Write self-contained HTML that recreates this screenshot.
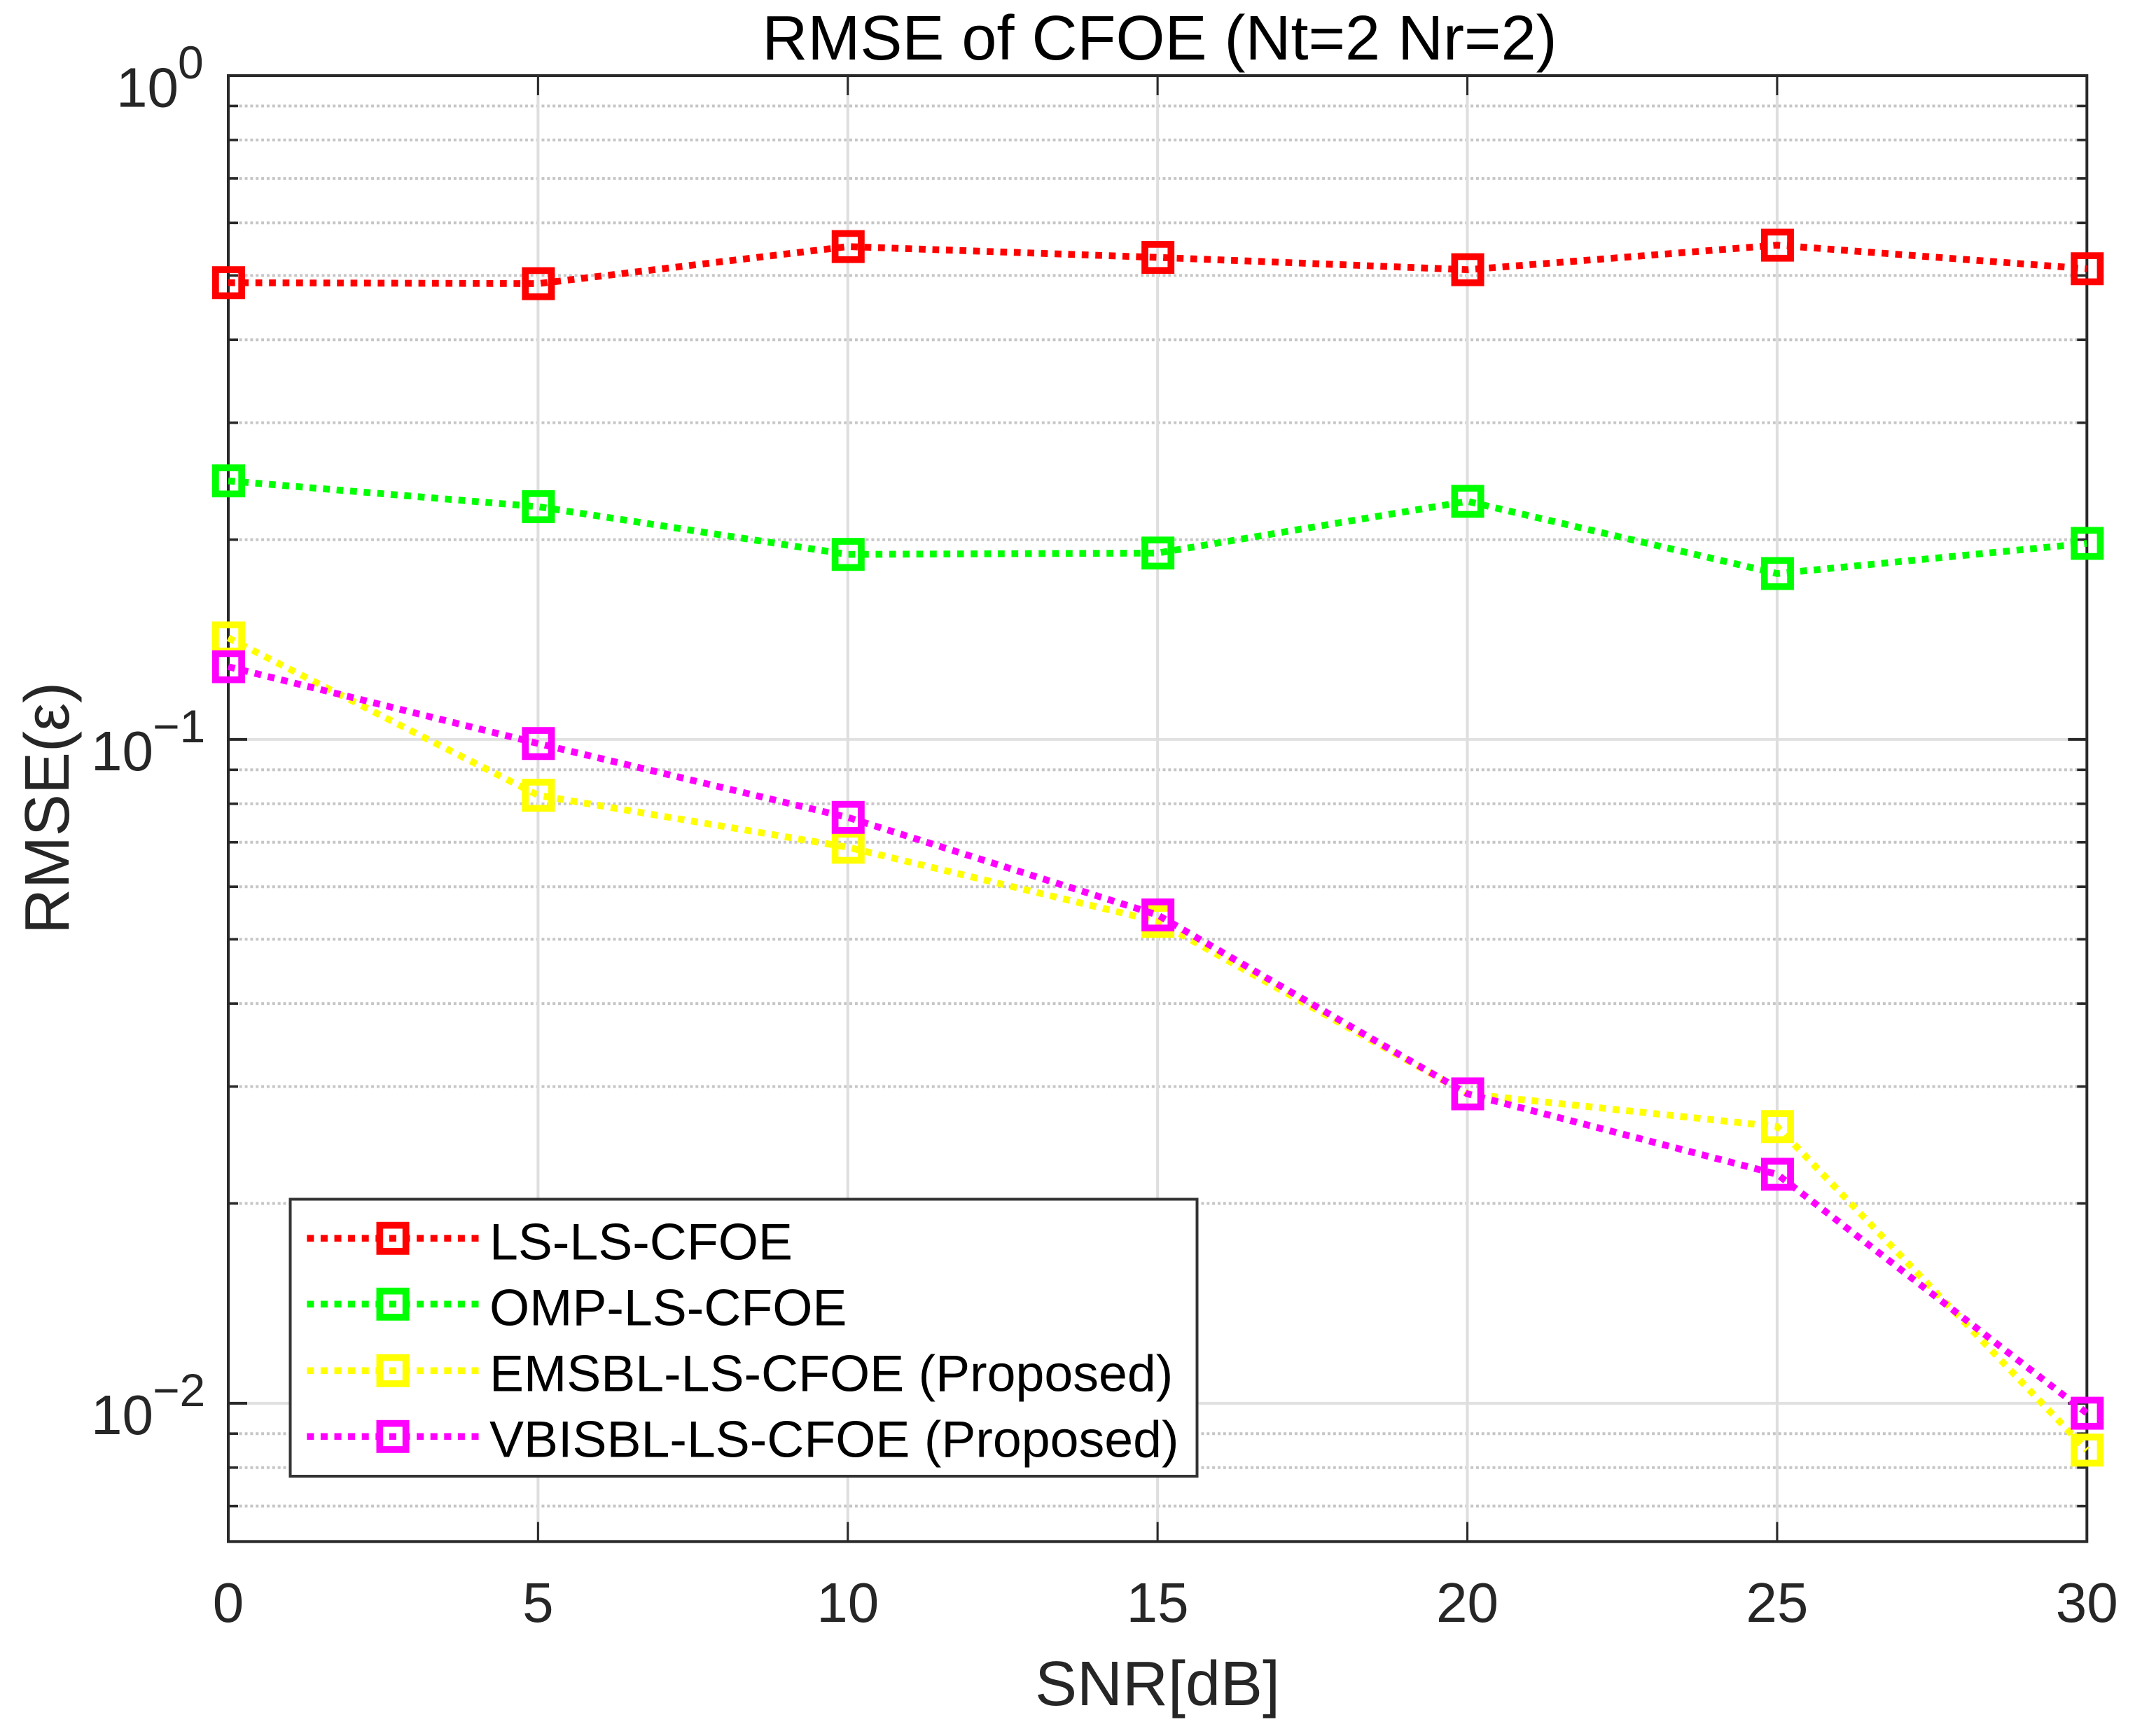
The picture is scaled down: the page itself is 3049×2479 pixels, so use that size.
<!DOCTYPE html>
<html lang="en">
<head>
<meta charset="utf-8">
<title>RMSE of CFOE (Nt=2 Nr=2)</title>
<style>
html,body{margin:0;padding:0;background:#fff;width:3049px;height:2479px;overflow:hidden}
svg{display:block;position:absolute;left:0;top:0}
text{font-family:"Liberation Sans",Arial,sans-serif}
</style>
</head>
<body>
<svg id="chart" xmlns="http://www.w3.org/2000/svg" width="3049" height="2479" viewBox="0 0 3049 2479">
  <rect x="0" y="0" width="3049" height="2479" fill="#fff"/>
  <g id="grid"></g>
  <g id="axes"></g>
  <g id="series"></g>
  <text x="1656" y="85" font-size="90" text-anchor="middle" fill="#000">RMSE of CFOE (Nt=2 Nr=2)</text>
  <text x="1653" y="2435" font-size="90" text-anchor="middle" fill="#262626">SNR[dB]</text>
  <text transform="translate(98 1154) rotate(-90)" x="0" y="0" font-size="90" text-anchor="middle" fill="#262626">RMSE(ε)</text>
  <g id="legend">
    <rect x="414.5" y="1712.5" width="1295" height="395.5" fill="#fff" stroke="#333" stroke-width="4"/>
  </g>
</svg>
<script>
const snr = [0, 5, 10, 15, 20, 25, 30];
const lsValues = [0.4876, 0.4860, 0.5527, 0.5323, 0.5101, 0.5554, 0.5118];
const ompValues = [0.2452, 0.2242, 0.1900, 0.1909, 0.2284, 0.1778, 0.1974];
const emsblValues = [0.1422, 0.0824, 0.0688, 0.0532, 0.02925, 0.02611, 0.0085];
const vbisblValues = [0.1287, 0.0986, 0.0763, 0.0544, 0.02925, 0.02213, 0.00966];
const seriesNames = ['LS-LS-CFOE', 'OMP-LS-CFOE', 'EMSBL-LS-CFOE (Proposed)', 'VBISBL-LS-CFOE (Proposed)'];
const seriesColors = ['#ff0000', '#00ff00', '#ffff00', '#ff00ff'];
const xTicks = [0, 5, 10, 15, 20, 25, 30];
const yMajorExponents = [0, -1, -2];
const yMinorTicks = [0.9, 0.8, 0.7, 0.6, 0.5, 0.4, 0.3, 0.2, 0.09, 0.08, 0.07, 0.06, 0.05, 0.04, 0.03, 0.02, 0.009, 0.008, 0.007];
const xDomain = [0, 30];
const yDomain = [1, 0.00619];

const NS = 'http://www.w3.org/2000/svg';
const L = 326, R = 2980.3, T = 108, B = 2201.3;
function xScale(v) { return L + (v - xDomain[0]) / (xDomain[1] - xDomain[0]) * (R - L); }
function yScale(v) {
  const a = Math.log10(yDomain[0]), b = Math.log10(yDomain[1]);
  return T + (Math.log10(v) - a) / (b - a) * (B - T);
}
function mk(tag, attrs, parent) {
  const el = document.createElementNS(NS, tag);
  for (const k in attrs) el.setAttribute(k, attrs[k]);
  parent.appendChild(el);
  return el;
}
const grid = document.getElementById('grid');
const axes = document.getElementById('axes');
const series = document.getElementById('series');
const legend = document.getElementById('legend');
const dark = '#2a2a2a';

/* grid */
yMinorTicks.forEach(function (v) {
  const y = yScale(v);
  const g = mk('line', {x1: L, x2: R, y1: y, y2: y, stroke: '#c6c6c6', 'stroke-width': 4, 'stroke-dasharray': '4 3.85'}, grid);
  
  
});
yMajorExponents.forEach(function (e) {
  if (e === 0) return;
  const y = yScale(Math.pow(10, e));
  const g = mk('line', {x1: L, x2: R, y1: y, y2: y, stroke: '#e1e1e1', 'stroke-width': 4}, grid);
  
  
});
xTicks.forEach(function (v) {
  if (v === xDomain[0] || v === xDomain[1]) return;
  const x = xScale(v);
  const g = mk('line', {x1: x, x2: x, y1: T, y2: B, stroke: '#dedede', 'stroke-width': 4}, grid);
  
  
});

/* ticks */
xTicks.forEach(function (v) {
  const x = xScale(v);
  if (v !== xDomain[0] && v !== xDomain[1]) {
    const t1 = mk('line', {x1: x, x2: x, y1: B, y2: B - 28, stroke: dark, 'stroke-width': 3}, axes);
    
    
    const t2 = mk('line', {x1: x, x2: x, y1: T, y2: T + 28, stroke: dark, 'stroke-width': 3}, axes);
    
    
  }
  const lab = mk('text', {x: x, y: 2316, 'font-size': 80, 'text-anchor': 'middle', fill: '#262626'}, axes);
  
  
  lab.textContent = String(v);
});
yMinorTicks.forEach(function (v) {
  const y = yScale(v);
  const t1 = mk('line', {x1: L, x2: L + 14, y1: y, y2: y, stroke: dark, 'stroke-width': 3.6}, axes);
  
  
  const t2 = mk('line', {x1: R, x2: R - 14, y1: y, y2: y, stroke: dark, 'stroke-width': 3.6}, axes);
  
  
});
yMajorExponents.forEach(function (e) {
  const y = yScale(Math.pow(10, e));
  if (e !== 0) {
    const t1 = mk('line', {x1: L, x2: L + 27, y1: y, y2: y, stroke: dark, 'stroke-width': 4}, axes);
    
    
    const t2 = mk('line', {x1: R, x2: R - 27, y1: y, y2: y, stroke: dark, 'stroke-width': 4}, axes);
    
    
  }
  const sx = e === 0 ? 166 : 130;
  const base = mk('text', {x: sx, y: y + 44.3, 'font-size': 80, fill: '#262626'}, axes);
  
  
  base.textContent = '10';
  const sup = mk('text', {x: sx + 88, y: y + 4.2, 'font-size': 66, fill: '#262626'}, axes);
  
  
  sup.textContent = e < 0 ? '\u2212' + String(-e) : String(e);
});

/* axes box */
const box = mk('rect', {x: L, y: T, width: R - L, height: B - T, fill: 'none', stroke: dark, 'stroke-width': 4}, axes);



/* series */
const allValues = [lsValues, ompValues, emsblValues, vbisblValues];
const LINE_W = 9.7, MARK_SIDE = 37.3;
allValues.forEach(function (vals, i) {
  const c = seriesColors[i];
  const pts = vals.map(function (v, j) { return xScale(snr[j]) + ',' + yScale(v); }).join(' ');
  const line = mk('polyline', {points: pts, fill: 'none', stroke: c, 'stroke-width': LINE_W, 'stroke-dasharray': '9.7 9.7'}, series);
  
  
  vals.forEach(function (v, j) {
    const m = mk('rect', {x: xScale(snr[j]) - MARK_SIDE / 2 + 0.5, y: yScale(v) - MARK_SIDE / 2, width: MARK_SIDE, height: MARK_SIDE, fill: 'none', stroke: c, 'stroke-width': LINE_W}, series);
    
    
  });
});

/* legend */
const legendLineY = [1768.3, 1862.3, 1957.3, 2051.3];
const legendTextY = [1798.3, 1892.7, 1986.7, 2080.5];
seriesNames.forEach(function (name, i) {
  const c = seriesColors[i];
  const ly = legendLineY[i];
  const line = mk('line', {x1: 438.3, x2: 684, y1: ly, y2: ly, stroke: c, 'stroke-width': LINE_W, 'stroke-dasharray': '10 9.6'}, legend);
  
  
  const m = mk('rect', {x: 561 - MARK_SIDE / 2, y: ly - MARK_SIDE / 2, width: MARK_SIDE, height: MARK_SIDE, fill: 'none', stroke: c, 'stroke-width': LINE_W}, legend);
  
  
  const t = mk('text', {x: 699, y: legendTextY[i], 'font-size': 73.5, fill: '#000'}, legend);
  
  
  t.textContent = name;
});
</script>
</body>
</html>
